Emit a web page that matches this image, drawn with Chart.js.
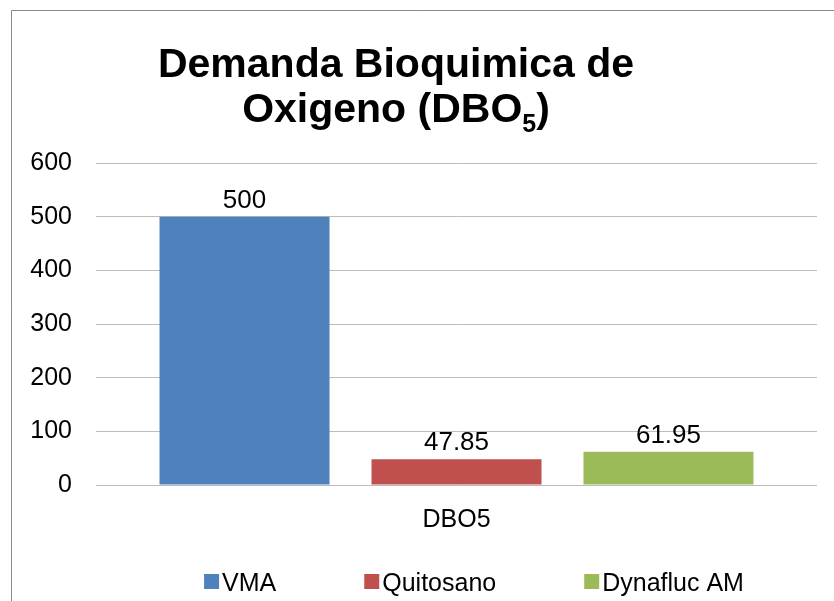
<!DOCTYPE html>
<html>
<head>
<meta charset="utf-8">
<script src="https://cdn.jsdelivr.net/npm/chart.js@4.4.0/dist/chart.umd.min.js"></script>
<style>
  html, body { margin: 0; padding: 0; background: #ffffff; }
  #wrap { position: relative; width: 834px; height: 601px; }
  canvas { display: block; }
</style>
</head>
<body>
<div id="wrap"><canvas id="c" width="834" height="601"></canvas></div>
<script>
// ---- data ----
const categories = ["DBO5"];
const seriesNames = ["VMA", "Quitosano", "Dynafluc AM"];
const vmaValues = [500];
const quitosanoValues = [47.85];
const dynaflucValues = [61.95];
const valueLabels = [["500"], ["47.85"], ["61.95"]];
const yTicks = [0, 100, 200, 300, 400, 500, 600];
const titleLine1 = "Demanda Bioquimica de";
const titleLine2Main = "Oxigeno (DBO";
const titleLine2Sub = "5";
const titleLine2End = ")";

// ---- styles ----
const COLORS = ["#4F81BD", "#C0504D", "#9BBB59"];
const FONT = "'Liberation Sans', Arial, sans-serif";
const GRID = "#BDBDBD";

const framePlugin = {
  id: 'frame',
  beforeDraw(chart) {
    const ctx = chart.ctx;
    ctx.save();
    ctx.fillStyle = '#ffffff';
    ctx.fillRect(0, 0, chart.width, chart.height);
    ctx.strokeStyle = '#8A8A8A';
    ctx.lineWidth = 1;
    ctx.beginPath();
    ctx.moveTo(11.5, chart.height);
    ctx.lineTo(11.5, 10.5);
    ctx.lineTo(chart.width, 10.5);
    ctx.stroke();
    ctx.restore();
  }
};

const titlePlugin = {
  id: 'customTitle',
  afterDraw(chart) {
    const ctx = chart.ctx;
    const cx = 396;
    ctx.save();
    ctx.fillStyle = '#000000';
    ctx.textBaseline = 'alphabetic';
    ctx.font = "bold 41px " + FONT;
    ctx.textAlign = 'center';
    ctx.fillText(titleLine1, cx, 77);
    // line 2 with subscript
    const wMain = ctx.measureText(titleLine2Main).width;
    const wEnd = ctx.measureText(titleLine2End).width;
    ctx.font = "bold 25px " + FONT;
    const wSub = ctx.measureText(titleLine2Sub).width;
    const total = wMain + wSub + wEnd;
    let x = cx - total / 2;
    ctx.textAlign = 'left';
    ctx.font = "bold 41px " + FONT;
    ctx.fillText(titleLine2Main, x, 122);
    x += wMain;
    ctx.font = "bold 25px " + FONT;
    ctx.fillText(titleLine2Sub, x, 132);
    x += wSub;
    ctx.font = "bold 41px " + FONT;
    ctx.fillText(titleLine2End, x, 122);
    ctx.restore();
  }
};

const valueLabelPlugin = {
  id: 'valueLabels',
  afterDatasetsDraw(chart) {
    const ctx = chart.ctx;
    ctx.save();
    ctx.font = "26px " + FONT;
    ctx.fillStyle = '#000000';
    ctx.textAlign = 'center';
    ctx.textBaseline = 'alphabetic';
    chart.data.datasets.forEach((ds, di) => {
      const meta = chart.getDatasetMeta(di);
      meta.data.forEach((bar, i) => {
        ctx.fillText(valueLabels[di][i], bar.x, bar.y - 9);
      });
    });
    ctx.restore();
  }
};

const legendPlugin = {
  id: 'customLegend',
  afterDraw(chart) {
    const ctx = chart.ctx;
    const box = 15, gap = 3, spacing = 88, baseline = 591, centerX = 474;
    ctx.save();
    ctx.font = "25px " + FONT;
    const items = chart.data.datasets.map((ds, i) => ({
      label: ds.label, color: ds.backgroundColor,
      w: box + gap + ctx.measureText(ds.label).width
    }));
    const total = items.reduce((s, it) => s + it.w, 0) + spacing * (items.length - 1);
    let x = centerX - total / 2;
    items.forEach(it => {
      ctx.fillStyle = it.color;
      ctx.fillRect(x, baseline - 17, box, box);
      ctx.fillStyle = '#000000';
      ctx.textAlign = 'left';
      ctx.textBaseline = 'alphabetic';
      ctx.fillText(it.label, x + box + gap, baseline);
      x += it.w + spacing;
    });
    ctx.restore();
  }
};

const seriesValues = [vmaValues, quitosanoValues, dynaflucValues];

new Chart(document.getElementById('c'), {
  type: 'bar',
  data: {
    labels: categories,
    datasets: seriesNames.map((name, i) => ({
      label: name,
      data: seriesValues[i],
      backgroundColor: COLORS[i],
      borderWidth: 0,
      categoryPercentage: 0.882,
      barPercentage: 0.802
    }))
  },
  options: {
    responsive: false,
    animation: false,
    devicePixelRatio: 1,
    layout: { padding: { top: 163, left: 0, right: 17, bottom: 0 } },
    plugins: {
      legend: { display: false },
      title: { display: false },
      tooltip: { enabled: false }
    },
    scales: {
      x: {
        grid: { display: false, drawTicks: false },
        border: { display: false },
        ticks: { font: { family: FONT, size: 25 }, color: '#000000', padding: 20 },
        afterFit(scale) { scale.height = 116; }
      },
      y: {
        min: yTicks[0],
        max: yTicks[yTicks.length - 1],
        afterBuildTicks(scale) { scale.ticks = yTicks.map(v => ({ value: v })); },
        grid: { color: GRID, lineWidth: 1, drawTicks: false },
        border: { display: false },
        ticks: { font: { family: FONT, size: 25 }, color: '#000000', padding: 24 },
        afterFit(scale) { scale.width = 96; }
      }
    }
  },
  plugins: [framePlugin, valueLabelPlugin, titlePlugin, legendPlugin]
});
</script>
</body>
</html>
